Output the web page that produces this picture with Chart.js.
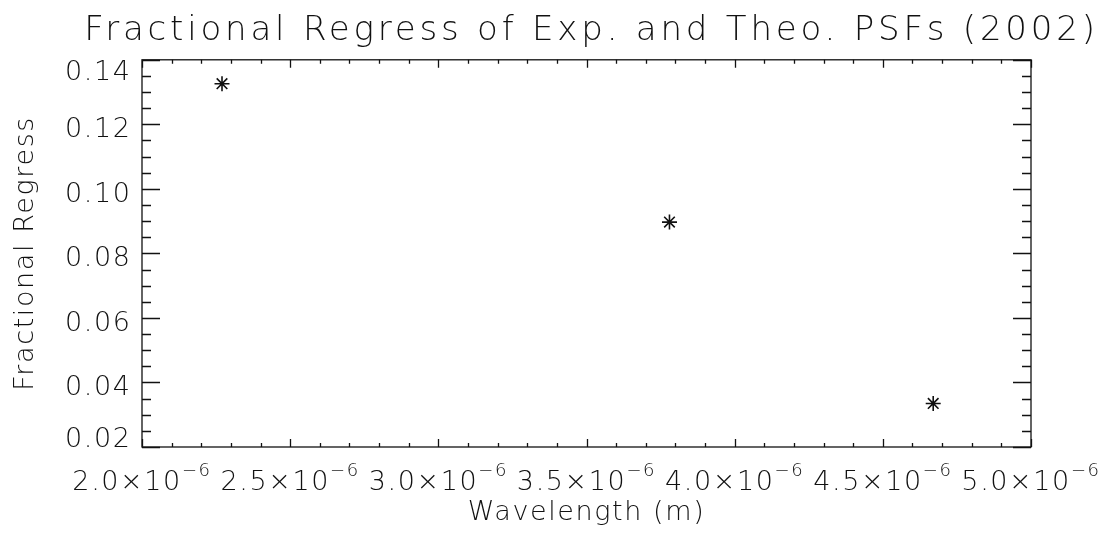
<!DOCTYPE html>
<html>
<head>
<meta charset="utf-8">
<script src="https://cdn.jsdelivr.net/npm/chart.js@4"></script>
<style>
  html, body { margin: 0; padding: 0; background: #fff; }
  #wrap { width: 1118px; height: 543px; }
</style>
</head>
<body>
<div id="wrap"><canvas id="regressChart" width="1118" height="543"></canvas></div>
<script>
const wavelengths = [2.27e-6, 3.78e-6, 4.67e-6];
const fracRegress = [0.1326, 0.0897, 0.0335];
const xTickValues = [2.0e-6, 2.5e-6, 3.0e-6, 3.5e-6, 4.0e-6, 4.5e-6, 5.0e-6];
const yTickValues = [0.02, 0.04, 0.06, 0.08, 0.10, 0.12, 0.14];

const FONT = "'DejaVu Sans', sans-serif";
const INK = '#111';
const SPACING = '1.6px';

// IDL-style box, inward ticks on all four sides, tick labels with real superscripts
const idlFrame = {
  id: 'idlFrame',
  afterInit(chart) {
    const tb = chart.titleBlock;
    const draw = tb.draw;
    tb.draw = function() {
      const l = tb.left, r = tb.right;
      tb.left = l - 60; tb.right = r + 70;
      chart.ctx.letterSpacing = '3.8px';
      draw.apply(tb, arguments);
      chart.ctx.letterSpacing = SPACING;
      tb.left = l; tb.right = r;
    };
  },
  beforeDraw(chart) { chart.ctx.letterSpacing = SPACING; },
  afterDatasetsDraw(chart) {
    const { ctx, chartArea: a, scales: { x, y } } = chart;
    ctx.save();
    ctx.strokeStyle = INK;
    ctx.lineWidth = 1.3;
    ctx.strokeRect(a.left, a.top, a.right - a.left, a.bottom - a.top);
    ctx.beginPath();
    for (let i = 0; i <= 30; i++) {
      const px = Math.round(x.getPixelForValue(2e-6 + i * 1e-7)) + 0.5;
      const len = i % 5 === 0 ? 8 : 4;
      ctx.moveTo(px, a.bottom); ctx.lineTo(px, a.bottom - len);
      ctx.moveTo(px, a.top); ctx.lineTo(px, a.top + len);
    }
    for (let i = 0; i <= 24; i++) {
      const py = Math.round(y.getPixelForValue(0.02 + i * 0.005)) + 0.5;
      const len = i % 4 === 0 ? 18 : 9;
      ctx.moveTo(a.left, py); ctx.lineTo(a.left + len, py);
      ctx.moveTo(a.right, py); ctx.lineTo(a.right - len, py);
    }
    ctx.stroke();

    ctx.fillStyle = INK;
    ctx.textBaseline = 'alphabetic';
    ctx.textAlign = 'left';
    const baseFont = '200 27px ' + FONT;
    const expFont = '200 18px ' + FONT;
    xTickValues.forEach(v => {
      const base = (v * 1e6).toFixed(1) + '×10';
      const exp = '−6';
      ctx.font = baseFont;
      const wb = ctx.measureText(base).width;
      ctx.font = expFont;
      const we = ctx.measureText(exp).width;
      const start = x.getPixelForValue(v) - (wb + we) / 2;
      ctx.font = baseFont;
      ctx.fillText(base, start, a.bottom + 43);
      ctx.font = expFont;
      ctx.fillText(exp, start + wb, a.bottom + 29);
    });

    ctx.font = baseFont;
    ctx.textAlign = 'right';
    yTickValues.forEach(v => {
      let cy = y.getPixelForValue(v) + 3;
      cy = Math.min(Math.max(cy, a.top + 10), a.bottom - 10);
      ctx.fillText(v.toFixed(2), 131.5, cy + 10);
    });
    ctx.restore();
  },
  afterDraw(chart) { chart.ctx.letterSpacing = '0px'; }
};

new Chart(document.getElementById('regressChart'), {
  type: 'scatter',
  data: {
    datasets: [{
      data: wavelengths.map((w, i) => ({ x: w, y: fracRegress[i] })),
      pointStyle: 'star',
      radius: 7.5,
      borderWidth: 1.6,
      borderColor: INK,
      backgroundColor: INK,
      showLine: false
    }]
  },
  options: {
    responsive: false,
    animation: false,
    devicePixelRatio: 1,
    layout: { padding: { left: 0, right: 87, top: 0, bottom: 0 } },
    plugins: {
      legend: { display: false },
      tooltip: { enabled: false },
      title: {
        display: true,
        fullSize: false,
        text: 'Fractional Regress of Exp. and Theo. PSFs (2002)',
        color: INK,
        font: { family: FONT, size: 34, weight: 200, lineHeight: 1.2 },
        padding: { top: 11, bottom: 8 }
      }
    },
    scales: {
      x: {
        type: 'linear',
        min: 2.0e-6,
        max: 5.0e-6,
        afterBuildTicks: s => { s.ticks = xTickValues.map(v => ({ value: v })); },
        afterFit: s => { s.height = 96; },
        grid: { display: false, drawTicks: false },
        border: { display: false },
        ticks: { display: false },
        title: {
          display: true,
          text: 'Wavelength (m)',
          color: INK,
          font: { family: FONT, size: 27, weight: 200 },
          padding: { top: 0, bottom: 14 }
        }
      },
      y: {
        min: 0.02,
        max: 0.14,
        afterBuildTicks: s => { s.ticks = yTickValues.map(v => ({ value: v })); },
        afterFit: s => { s.width = 142; },
        grid: { display: false, drawTicks: false },
        border: { display: false },
        ticks: { display: false },
        title: {
          display: true,
          text: 'Fractional Regress',
          color: INK,
          font: { family: FONT, size: 27, weight: 200 },
          padding: { top: 10, bottom: 0 }
        }
      }
    }
  },
  plugins: [idlFrame]
});
</script>
</body>
</html>
